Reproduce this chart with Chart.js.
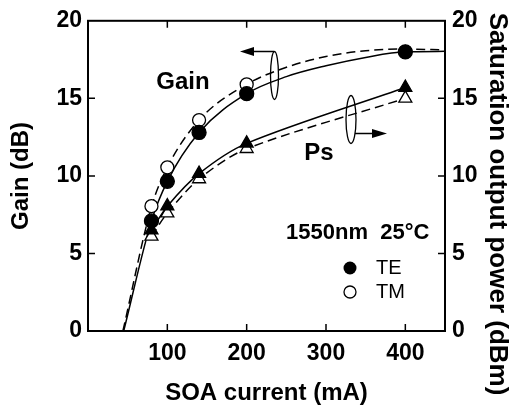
<!DOCTYPE html>
<html lang="en">
  <head>
    <meta charset="UTF-8" />
    <title>SOA gain and saturation output power</title>
    <script src="https://cdn.jsdelivr.net/npm/chart.js"></script>
    <style>
      body {
        margin: 0;
        background: #fff;
      }
    </style>
  </head>
  <body>
    <canvas id="soaChart" width="520" height="408"></canvas>

    <script>
      // measured points (SOA current in mA)
      var current = [80, 100, 140, 200, 400];
      var gainTE = [7.1, 9.65, 12.8, 15.3, 18.0];
      var gainTM = [8.05, 10.55, 13.6, 15.9, 18.0];
      var psTE = [6.5, 8.05, 10.15, 12.1, 15.7];
      var psTM = [6.1, 7.6, 9.8, 11.75, 15.0];

      // fitted gain curves
      var fitCurrentTE = [45, 80, 100, 140, 200, 250, 300, 350, 400, 450];
      var fitGainTE = [0, 7.1, 9.65, 12.8, 15.3, 16.4, 17.1, 17.64, 18.0, 18.03];
      var fitCurrentTM = [44, 80, 100, 140, 200, 250, 300, 350, 400, 450];
      var fitGainTM = [0, 8.0, 10.55, 13.6, 15.9, 17.0, 17.7, 18.07, 18.18, 18.12];

      var xTicks = [100, 200, 300, 400];
      var yTicks = [0, 5, 10, 15, 20];

      function pairs(xs, ys) {
        return xs.map(function (x, i) {
          return { x: x, y: ys[i] };
        });
      }

      var fam = "Arial, 'Liberation Sans', sans-serif";
      var tickFont = { family: fam, size: 23, weight: "bold" };
      var titleFont = { family: fam, size: 24, weight: "bold" };

      // frame, inward ticks, labels and arrows
      var decorPlugin = {
        id: "decor",
        afterDraw: function (chart) {
          var ctx = chart.ctx;
          var a = chart.chartArea;
          var xs = chart.scales.x;
          var yl = chart.scales.y;
          ctx.save();
          ctx.strokeStyle = "#000";
          ctx.lineWidth = 2;
          ctx.strokeRect(a.left, a.top, a.right - a.left, a.bottom - a.top);

          ctx.lineWidth = 1.5;
          ctx.beginPath();
          xTicks.forEach(function (v) {
            var px = xs.getPixelForValue(v);
            ctx.moveTo(px, a.bottom);
            ctx.lineTo(px, a.bottom - 7);
            ctx.moveTo(px, a.top);
            ctx.lineTo(px, a.top + 7);
          });
          [5, 10, 15].forEach(function (v) {
            var py = yl.getPixelForValue(v);
            ctx.moveTo(a.left, py);
            ctx.lineTo(a.left + 7, py);
            ctx.moveTo(a.right, py);
            ctx.lineTo(a.right - 7, py);
          });
          ctx.stroke();

          // text annotations
          ctx.fillStyle = "#000";
          ctx.textBaseline = "middle";
          ctx.textAlign = "center";
          ctx.font = "bold 24px " + fam;
          ctx.fillText("Gain", 183, 82);
          ctx.fillText("Ps", 319, 153);
          ctx.font = "bold 22px " + fam;
          ctx.textAlign = "left";
          ctx.fillText("1550nm  25°C", 286, 233);

          // legend
          ctx.font = "20px " + fam;
          ctx.fillText("TE", 376, 268);
          ctx.fillText("TM", 376, 292);
          ctx.beginPath();
          ctx.arc(350, 268, 6.5, 0, Math.PI * 2);
          ctx.fill();
          ctx.beginPath();
          ctx.arc(350, 292, 6, 0, Math.PI * 2);
          ctx.fillStyle = "#fff";
          ctx.fill();
          ctx.lineWidth = 1.3;
          ctx.stroke();

          // ellipses with arrows
          ctx.lineWidth = 1.3;
          ctx.beginPath();
          ctx.ellipse(274.5, 75.5, 4, 24, 0, 0, Math.PI * 2);
          ctx.stroke();
          ctx.beginPath();
          ctx.ellipse(351, 119.5, 5, 24, 0, 0, Math.PI * 2);
          ctx.stroke();
          ctx.lineWidth = 1.5;
          ctx.beginPath();
          ctx.moveTo(274, 51.5);
          ctx.lineTo(250, 51.5);
          ctx.moveTo(355, 133.5);
          ctx.lineTo(375, 133.5);
          ctx.stroke();
          ctx.fillStyle = "#000";
          ctx.beginPath();
          ctx.moveTo(240, 51.5);
          ctx.lineTo(254, 47);
          ctx.lineTo(254, 56);
          ctx.closePath();
          ctx.fill();
          ctx.beginPath();
          ctx.moveTo(387, 133.5);
          ctx.lineTo(372, 129);
          ctx.lineTo(372, 138);
          ctx.closePath();
          ctx.fill();

          // right axis title
          ctx.translate(497, 204);
          ctx.rotate(Math.PI / 2);
          ctx.textAlign = "center";
          ctx.font = "bold 26px " + fam;
          ctx.fillText("Saturation output power (dBm)", 0, 0);
          ctx.restore();
        },
      };

      var marker = function (label, ys, axis, style, filled, order, showLine, dash) {
        return {
          label: label,
          data: pairs(current, ys),
          yAxisID: axis,
          showLine: showLine,
          borderColor: "#000",
          borderWidth: 1.5,
          borderDash: dash,
          tension: 0.3,
          pointStyle: style,
          pointRadius: style === "triangle" ? 7.5 : filled ? 7 : 6.5,
          pointBorderWidth: 1.3,
          pointBackgroundColor: filled ? "#000" : "#fff",
          pointBorderColor: "#000",
          order: order,
        };
      };

      new Chart(document.getElementById("soaChart").getContext("2d"), {
        type: "scatter",
        data: {
          datasets: [
            marker("Gain TE", gainTE, "y", "circle", true, 1, false, []),
            marker("Ps TE", psTE, "y2", "triangle", true, 2, true, []),
            marker("Gain TM", gainTM, "y", "circle", false, 3, false, []),
            marker("Ps TM", psTM, "y2", "triangle", false, 4, true, [9, 5]),
            {
              label: "Gain TE fit",
              data: pairs(fitCurrentTE, fitGainTE),
              yAxisID: "y",
              showLine: true,
              pointRadius: 0,
              borderColor: "#000",
              borderWidth: 1.5,
              cubicInterpolationMode: "monotone",
              order: 5,
            },
            {
              label: "Gain TM fit",
              data: pairs(fitCurrentTM, fitGainTM),
              yAxisID: "y",
              showLine: true,
              pointRadius: 0,
              borderColor: "#000",
              borderWidth: 1.5,
              borderDash: [9, 5],
              cubicInterpolationMode: "monotone",
              order: 6,
            },
          ],
        },
        options: {
          responsive: false,
          animation: false,
          layout: { padding: { top: 20, left: 0, right: 0, bottom: 0 } },
          plugins: { legend: { display: false }, tooltip: { enabled: false } },
          scales: {
            x: {
              type: "linear",
              min: 0,
              max: 450,
              afterBuildTicks: function (s) {
                s.ticks = xTicks.map(function (v) {
                  return { value: v };
                });
              },
              afterFit: function (s) {
                s.height = 77;
              },
              grid: { display: false, drawTicks: false },
              border: { display: false },
              ticks: { color: "#000", font: tickFont, padding: 9, maxRotation: 0 },
              title: {
                display: true,
                text: "SOA current (mA)",
                color: "#000",
                font: titleFont,
                padding: { top: 0, bottom: 0 },
              },
            },
            y: {
              position: "left",
              min: 0,
              max: 20,
              afterBuildTicks: function (s) {
                s.ticks = yTicks.map(function (v) {
                  return { value: v };
                });
              },
              afterFit: function (s) {
                s.width = 88;
              },
              grid: { display: false, drawTicks: false },
              border: { display: false },
              ticks: { color: "#000", font: tickFont, padding: 6 },
              title: {
                display: true,
                text: "Gain (dB)",
                color: "#000",
                font: titleFont,
                padding: { top: 7, bottom: 0 },
              },
            },
            y2: {
              position: "right",
              min: 0,
              max: 20,
              afterBuildTicks: function (s) {
                s.ticks = yTicks.map(function (v) {
                  return { value: v };
                });
              },
              afterFit: function (s) {
                s.width = 75;
              },
              grid: { display: false, drawTicks: false },
              border: { display: false },
              ticks: { color: "#000", font: tickFont, padding: 7 },
            },
          },
        },
        plugins: [decorPlugin],
      });
    </script>
  </body>
</html>
